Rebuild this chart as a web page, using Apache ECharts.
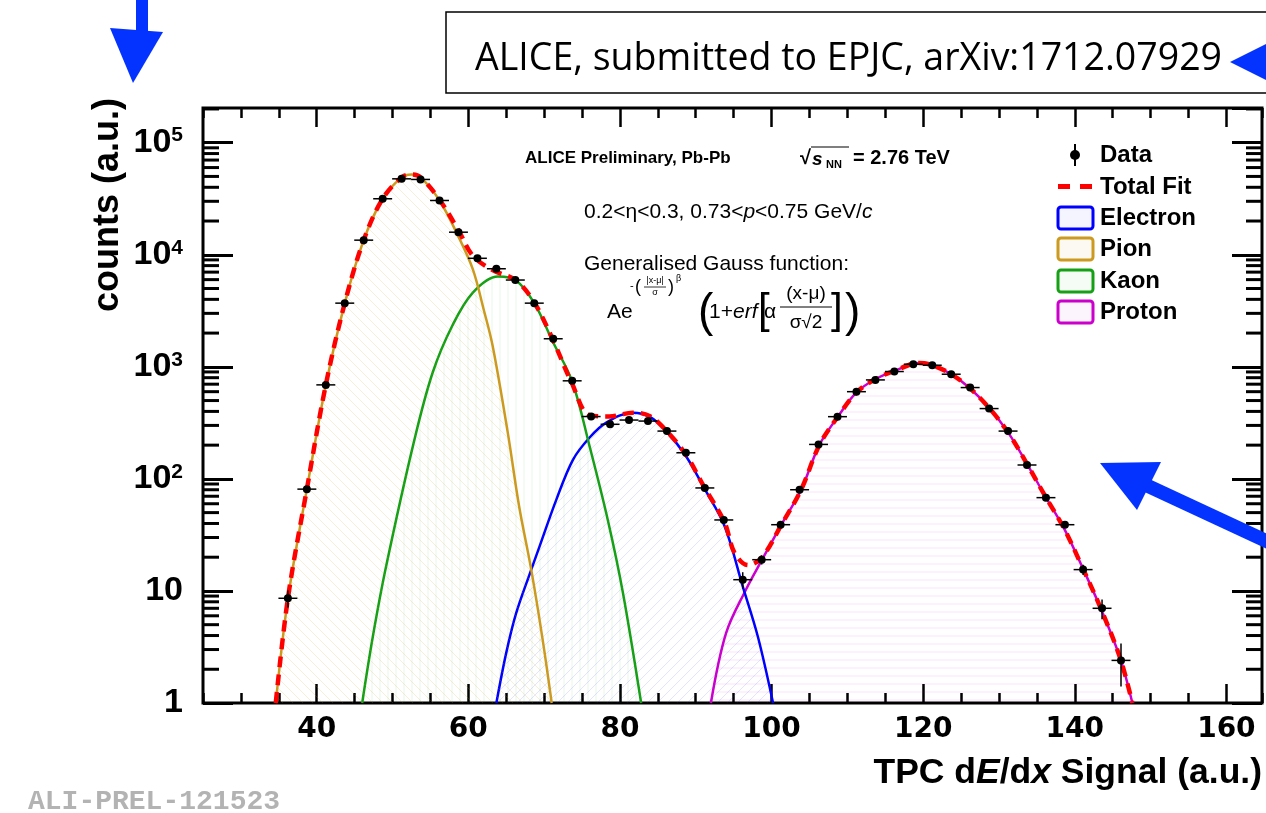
<!DOCTYPE html>
<html>
<head>
<meta charset="utf-8">
<script src="https://cdn.jsdelivr.net/npm/echarts@6/dist/echarts.min.js"></script>
<style>
  html, body { margin: 0; padding: 0; background: #fff; }
  #chart { width: 1266px; height: 813px; }
</style>
</head>
<body>
<div id="chart"></div>
<script>
// axis ranges and tick labels
const xMin = 25, xMax = 164.7;
const xMajorTicks = [40, 60, 80, 100, 120, 140, 160];
const yMin = 1, yMax = 204000;
const yDecades = [1, 10, 100, 1000, 10000, 100000];
const yMantissas = [2, 3, 4, 5, 6, 7, 8, 9];
const binHalf = 1.25;

// measured points (TPC dE/dx bins)
const dataX = [36.2, 38.7, 41.2, 43.7, 46.2, 48.7, 51.2, 53.7, 56.2, 58.7, 61.2, 63.7, 66.2, 68.7, 71.2,
  73.7, 76.2, 78.7, 81.2, 83.7, 86.2, 88.7, 91.2, 93.7, 96.2, 98.7, 101.2, 103.7, 106.2, 108.7,
  111.2, 113.7, 116.2, 118.7, 121.2, 123.7, 126.2, 128.7, 131.2, 133.7, 136.2, 138.7, 141.1, 143.6, 146.1];
const dataY = [8.6, 81, 690, 3700, 13500, 31600, 47600, 47000, 30500, 15900, 9300, 7500, 5950, 3700, 1780,
  750, 360, 307, 335, 328, 267, 171, 83, 43, 12.6, 19, 39, 80, 203, 359,
  600, 764, 908, 1055, 1033, 859, 653, 424, 267, 133, 68, 39, 15.5, 7.0, 2.4];
const dataErr = [1.5, 3, 8, 20, 40, 60, 70, 70, 60, 40, 30, 28, 25, 20, 14,
  9, 6, 6, 6, 6, 5, 4, 3, 2.2, 2.1, 1.8, 2.5, 3.5, 5, 6,
  8, 9, 10, 10, 10, 9, 8, 7, 5, 4, 3, 2.5, 1.6, 1.4, 1.0];

// fitted curves
const totalX = [34.6, 36.2, 38.7, 41.2, 43.7, 46.2, 48.7, 51.2, 52.5, 53.7, 56.2, 58.7, 60.6, 63.2, 66.3,
  68.7, 71.1, 73.6, 76.0, 78.6, 81.7, 83.9, 86.1, 88.7, 91.1, 93.8, 95.1, 96.9, 98.75, 101.3,
  103.9, 106.3, 108.7, 111.2, 113.6, 116.2, 119.5, 121.1, 123.7, 126.1, 128.7, 131.2, 133.6, 136.1, 138.6,
  141.05, 143.5, 146.0, 147.6];
const totalY = [1, 8.6, 81, 690, 3700, 13500, 31600, 49000, 52000, 49000, 31000, 16500, 9800, 7300, 5900,
  3750, 1780, 730, 370, 360, 390, 365, 270, 165, 85, 41, 22, 17, 20, 39,
  80, 200, 355, 590, 770, 920, 1080, 1040, 860, 650, 430, 260, 140, 70, 36,
  16, 6.8, 2.5, 1];

const pionX = [34.6, 36.2, 38.7, 41.2, 43.7, 46.2, 48.7, 51.2, 52.5, 53.7, 56.2, 58.7, 60.6, 62.0, 63.2,
  65.2, 66.7, 68.3, 69.8, 71.0];
const pionY = [1, 8.5, 81, 690, 3700, 13500, 31600, 49000, 52000, 49000, 30500, 14500, 7400, 3300, 1550,
  260, 57, 15.5, 3.7, 1];

const kaonX = [46.0, 47.4, 49.15, 52.9, 55.3, 57.9, 60.6, 63.9, 66.3, 68.7, 71.1, 73.7, 76.0, 78.4, 80.4, 82.8];
const kaonY = [1, 3.9, 16.5, 225, 890, 2340, 4600, 6400, 5900, 3700, 1700, 740, 195, 43, 9.6, 1];

const electronX = [63.7, 65.0, 66.3, 68.15, 69.4, 71.6, 73.8, 76.0, 78.2, 81.7, 83.9, 86.1, 88.7, 91.1, 93.8,
  96.2, 98.2, 100.2];
const electronY = [1, 2.8, 6.3, 14.5, 25, 65, 148, 234, 318, 390, 359, 267, 160, 83, 38,
  11, 3.9, 1];

const protonX = [92.0, 94.0, 96.6, 98.75, 101.3, 103.9, 106.3, 108.7, 111.2, 113.6, 116.2, 119.5, 121.1, 123.7, 126.1,
  128.7, 131.2, 133.6, 136.1, 138.6, 141.05, 143.5, 146.0, 147.6];
const protonY = [1, 4.2, 10.2, 19, 39, 80, 200, 355, 590, 770, 920, 1080, 1040, 860, 650,
  430, 260, 140, 70, 36, 16, 6.8, 2.5, 1];

const yMinorTicks = [];
yDecades.forEach(d => yMantissas.forEach(m => { if (d * m < yMax) yMinorTicks.push(d * m); }));

const pair = (xs, ys) => xs.map((x, i) => [x, ys[i]]);

// hatch patterns like the ROOT fill styles
function hatch(color, kind) {
  const c = document.createElement('canvas');
  const s = kind === 'v' || kind === 'h' ? 8 : 10;
  c.width = s; c.height = s;
  const g = c.getContext('2d');
  g.strokeStyle = color;
  g.lineWidth = 1;
  g.beginPath();
  if (kind === 'v') { g.moveTo(s / 2, 0); g.lineTo(s / 2, s); }
  else if (kind === 'h') { g.moveTo(0, s / 2); g.lineTo(s, s / 2); }
  else {
    for (let k = -s; k <= s; k += s) {
      if (kind === 'b') { g.moveTo(k, 0); g.lineTo(k + s, s); }
      else { g.moveTo(k, s); g.lineTo(k + s, 0); }
    }
  }
  g.stroke();
  return { image: c, repeat: 'repeat' };
}

const cPion = '#cc9a1f', cKaon = '#16a016', cElectron = '#0000ff', cProton = '#cc00cc';
const sans = 'Liberation Sans, Arial, sans-serif';

function curve(name, xs, ys, color, fill, z) {
  return {
    type: 'line', name: name, data: pair(xs, ys), smooth: 0.35, showSymbol: false, z: z,
    clip: true, silent: true,
    lineStyle: { color: color, width: 2.5 },
    areaStyle: { color: fill, origin: 'start' }
  };
}

function txt(x, y, text, size, extra) {
  return {
    type: 'text', x: x, y: y, z: 50,
    style: Object.assign({ text: text, font: size + 'px ' + sans, fill: '#000',
      textAlign: 'left', textVerticalAlign: 'middle' }, (extra || {}))
  };
}

const chart = echarts.init(document.getElementById('chart'));

const tickStyle = { color: '#000', width: 2.5 };
const baseX = { type: 'value', min: xMin, max: xMax, axisLine: { show: false }, splitLine: { show: false } };
const baseY = { type: 'log', logBase: 10, min: yMin, max: yMax, axisLine: { show: false }, splitLine: { show: false } };

const option = {
  animation: false,
  backgroundColor: '#fff',
  grid: { left: 203, top: 108, right: 4, bottom: 110, show: true, borderColor: '#000', borderWidth: 3,
    backgroundColor: 'transparent' },
  xAxis: [
    Object.assign({}, baseX, { position: 'bottom',
      axisTick: { inside: true, length: 19, customValues: xMajorTicks, lineStyle: tickStyle },
      axisLabel: { customValues: xMajorTicks, margin: 13, color: '#000', fontFamily: 'DejaVu Sans',
        fontWeight: 'bold', fontSize: 28 } }),
    Object.assign({}, baseX, { position: 'bottom', interval: 5,
      axisTick: { inside: true, length: 10, lineStyle: tickStyle }, axisLabel: { show: false } }),
    Object.assign({}, baseX, { position: 'top',
      axisTick: { inside: true, length: 19, customValues: xMajorTicks, lineStyle: tickStyle },
      axisLabel: { show: false } }),
    Object.assign({}, baseX, { position: 'top', interval: 5,
      axisTick: { inside: true, length: 10, lineStyle: tickStyle }, axisLabel: { show: false } })
  ],
  yAxis: [
    Object.assign({}, baseY, { position: 'left',
      axisTick: { inside: true, length: 30, lineStyle: { color: '#000', width: 3 } },
      axisLabel: {
        margin: 20, showMaxLabel: false, color: '#000', fontFamily: sans, fontWeight: 'bold', fontSize: 34,
        formatter: v => {
          const p = Math.round(Math.log10(v));
          return p === 0 ? '1' : p === 1 ? '10' : '10{sup|' + p + '}';
        },
        rich: { sup: { fontSize: 21, fontWeight: 'bold', fontFamily: sans, color: '#000', verticalAlign: 'top', padding: [0, 0, 14, 0] } }
      } }),
    Object.assign({}, baseY, { position: 'right',
      axisTick: { inside: true, length: 30, lineStyle: { color: '#000', width: 3 } },
      axisLabel: { show: false } })
  ],
  series: [
    curve('Proton', protonX, protonY, cProton, hatch('rgba(204,0,204,0.16)', 'h'), 2),
    curve('Electron', electronX, electronY, cElectron, hatch('rgba(60,60,255,0.2)', 'f'), 3),
    curve('Kaon', kaonX, kaonY, cKaon, hatch('rgba(0,150,0,0.13)', 'v'), 4),
    curve('Pion', pionX, pionY, cPion, hatch('rgba(204,160,40,0.25)', 'b'), 5),
    {
      type: 'line', name: 'Total Fit', data: pair(totalX, totalY), smooth: 0.35, showSymbol: false,
      z: 8, clip: true, silent: true,
      lineStyle: { color: '#ff0000', width: 4.5, type: [11, 7] }
    },
    {
      type: 'custom', name: 'Data', z: 10, silent: true,
      data: dataX.map((x, i) => [x, dataY[i], dataErr[i]]),
      renderItem: (params, api) => {
        const x = api.value(0), y = api.value(1), e = api.value(2);
        const c = api.coord([x, y]);
        const l = api.coord([x - binHalf, y]);
        const r = api.coord([x + binHalf, y]);
        const t = api.coord([x, y + e]);
        const b = api.coord([x, Math.max(y - e, 1.01)]);
        return {
          type: 'group', children: [
            { type: 'line', shape: { x1: l[0], y1: c[1], x2: r[0], y2: c[1] }, style: { stroke: '#000', lineWidth: 1.5 } },
            { type: 'line', shape: { x1: c[0], y1: t[1], x2: c[0], y2: b[1] }, style: { stroke: '#000', lineWidth: 1.5 } },
            { type: 'circle', shape: { cx: c[0], cy: c[1], r: 4 }, style: { fill: '#000' } }
          ]
        };
      }
    },
    {
      // minor ticks of the log axis on both sides of the frame
      type: 'custom', name: 'yMinor', z: 12, silent: true,
      data: yMinorTicks.map(v => [xMin, v]),
      renderItem: (params, api) => {
        const v = api.value(1);
        const a = api.coord([xMin, v]);
        const b = api.coord([xMax, v]);
        return {
          type: 'group', children: [
            { type: 'line', shape: { x1: a[0], y1: a[1], x2: a[0] + 16, y2: a[1] }, style: { stroke: '#000', lineWidth: 3 } },
            { type: 'line', shape: { x1: b[0], y1: b[1], x2: b[0] - 16, y2: b[1] }, style: { stroke: '#000', lineWidth: 3 } }
          ]
        };
      }
    }
  ],
  graphic: [
    // reference box
    { type: 'rect', shape: { x: 446, y: 12, width: 840, height: 81 }, style: { fill: '#fff', stroke: '#000', lineWidth: 1.5 }, z: 40 },
    txt(475, 59, 'ALICE, submitted to EPJC, arXiv:1712.07929', 37, { font: '37.5px Open Sans, Lato, sans-serif' }),
    // blue annotation arrows
    { type: 'rect', shape: { x: 136, y: 0, width: 12, height: 32 }, style: { fill: '#0433ff' }, z: 60 },
    { type: 'polygon', shape: { points: [[110, 28], [163, 32], [133, 83]] }, style: { fill: '#0433ff' }, z: 60 },
    { type: 'polygon', shape: { points: [[1230, 62], [1268, 43], [1268, 81]] }, style: { fill: '#0433ff' }, z: 60 },
    { type: 'line', shape: { x1: 1148, y1: 486, x2: 1290, y2: 552 }, style: { stroke: '#0433ff', lineWidth: 14 }, z: 60 },
    { type: 'polygon', shape: { points: [[1100, 463], [1161, 462], [1137, 510]] }, style: { fill: '#0433ff' }, z: 60 },
    // labels inside the frame
    txt(525, 158, 'ALICE Preliminary, Pb-Pb', 17, { font: 'bold 17px ' + sans }),
    txt(800, 158, '\u221a', 19, { font: 'bold 20px ' + sans }),
    { type: 'line', shape: { x1: 811, y1: 147, x2: 849, y2: 147 }, style: { stroke: '#000', lineWidth: 1.2 }, z: 50 },
    txt(812, 160, 's', 18, { font: 'italic bold 19px ' + sans }),
    txt(826, 165, 'NN', 11, { font: 'bold 11px ' + sans }),
    txt(853, 158, '= 2.76 TeV', 20, { font: 'bold 20px ' + sans }),
    {
      type: 'text', x: 584, y: 212, z: 50,
      style: { text: '{n|0.2<\u03b7<0.3, 0.73<}{i|p}{n|<0.75 GeV/}{i|c}', textVerticalAlign: 'middle',
        rich: { n: { font: '21px ' + sans, fill: '#000' }, i: { font: 'italic 21px ' + sans, fill: '#000' } } }
    },
    txt(584, 264, 'Generalised Gauss function:', 21, { font: '21px ' + sans }),
    // formula
    txt(607, 312, 'Ae', 21, { font: '21px ' + sans }),
    txt(630, 286, '-', 11, { font: '11px ' + sans }),
    txt(635, 287, '(', 18, { font: '18px ' + sans }),
    txt(655, 281, '|x-\u03bc|', 9, { font: '9px ' + sans, textAlign: 'center' }),
    { type: 'line', shape: { x1: 644, y1: 287, x2: 666, y2: 287 }, style: { stroke: '#000', lineWidth: 0.8 }, z: 50 },
    txt(655, 293, '\u03c3', 9, { font: '9px ' + sans, textAlign: 'center' }),
    txt(668, 287, ')', 18, { font: '18px ' + sans }),
    txt(676, 279, '\u03b2', 9, { font: '9px ' + sans }),
    txt(698, 313, '(', 46, { font: '46px ' + sans }),
    txt(709, 312, '1+', 21, { font: '21px ' + sans }),
    txt(733, 312, 'erf', 21, { font: 'italic 21px ' + sans }),
    txt(758, 311, '[', 42, { font: '42px ' + sans }),
    txt(764, 312, '\u03b1', 21, { font: '21px ' + sans }),
    txt(806, 294, '(x-\u03bc)', 19, { font: '19px ' + sans, textAlign: 'center' }),
    { type: 'line', shape: { x1: 780, y1: 307, x2: 832, y2: 307 }, style: { stroke: '#000', lineWidth: 1 }, z: 50 },
    txt(806, 323, '\u03c3\u221a2', 19, { font: '19px ' + sans, textAlign: 'center' }),
    txt(831, 311, ']', 42, { font: '42px ' + sans }),
    txt(845, 313, ')', 46, { font: '46px ' + sans }),
    // legend
    { type: 'line', shape: { x1: 1075, y1: 144, x2: 1075, y2: 166 }, style: { stroke: '#000', lineWidth: 2 }, z: 50 },
    { type: 'circle', shape: { cx: 1075, cy: 155, r: 5 }, style: { fill: '#000' }, z: 50 },
    txt(1100, 155, 'Data', 24, { font: 'bold 24px ' + sans }),
    { type: 'rect', shape: { x: 1058, y: 184, width: 12, height: 5 }, style: { fill: '#ff0000' }, z: 50 },
    { type: 'rect', shape: { x: 1080, y: 184, width: 12, height: 5 }, style: { fill: '#ff0000' }, z: 50 },
    txt(1100, 187, 'Total Fit', 24, { font: 'bold 24px ' + sans }),
    { type: 'rect', shape: { x: 1058, y: 207, width: 35, height: 22, r: 3 }, style: { fill: 'rgba(0,0,255,0.04)', stroke: cElectron, lineWidth: 3 }, z: 50 },
    txt(1100, 218, 'Electron', 24, { font: 'bold 24px ' + sans }),
    { type: 'rect', shape: { x: 1058, y: 238, width: 35, height: 22, r: 3 }, style: { fill: 'rgba(204,160,40,0.06)', stroke: cPion, lineWidth: 3 }, z: 50 },
    txt(1100, 249, 'Pion', 24, { font: 'bold 24px ' + sans }),
    { type: 'rect', shape: { x: 1058, y: 270, width: 35, height: 22, r: 3 }, style: { fill: 'rgba(0,150,0,0.04)', stroke: cKaon, lineWidth: 3 }, z: 50 },
    txt(1100, 281, 'Kaon', 24, { font: 'bold 24px ' + sans }),
    { type: 'rect', shape: { x: 1058, y: 301, width: 35, height: 22, r: 3 }, style: { fill: 'rgba(204,0,204,0.04)', stroke: cProton, lineWidth: 3 }, z: 50 },
    txt(1100, 312, 'Proton', 24, { font: 'bold 24px ' + sans }),
    // axis titles
    {
      type: 'text', x: 108, y: 205, rotation: Math.PI / 2, z: 50,
      style: { text: 'counts (a.u.)', font: 'bold 36px ' + sans, fill: '#000', textAlign: 'center', textVerticalAlign: 'middle' }
    },
    {
      type: 'text', x: 1262, y: 773, z: 50,
      style: { text: '{b|TPC d}{i|E}{b|/d}{i|x}{b| Signal (a.u.)}', textAlign: 'right', textVerticalAlign: 'middle',
        rich: { b: { font: 'bold 35.5px ' + sans, fill: '#000' }, i: { font: 'italic bold 35.5px ' + sans, fill: '#000' } } }
    },
    txt(28, 802, 'ALI-PREL-121523', 28, { font: 'bold 28px Liberation Mono, monospace', fill: '#b3b3b3' })
  ]
};

chart.setOption(option);
</script>
</body>
</html>
